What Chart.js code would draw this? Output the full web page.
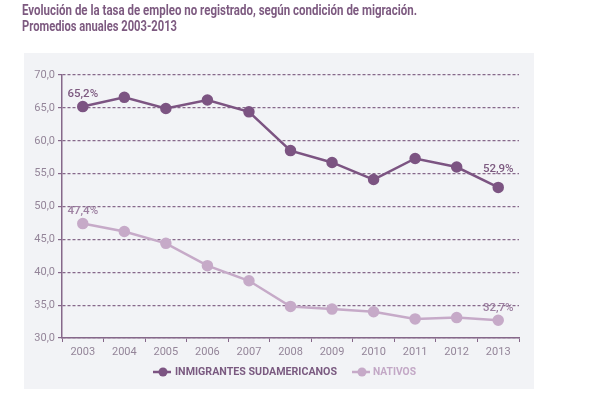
<!DOCTYPE html>
<html>
<head>
<meta charset="utf-8">
<script src="https://cdn.jsdelivr.net/npm/chart.js@4.4.1/dist/chart.umd.min.js"></script>
<style>
html,body{margin:0;padding:0;background:#fff;}
#wrap{width:595px;height:397px;position:relative;}
</style>
</head>
<body>
<div id="wrap"><canvas id="c" width="595" height="397"></canvas></div>
<script>
const years = ["2003","2004","2005","2006","2007","2008","2009","2010","2011","2012","2013"];
const inmigrantes = [65.2, 66.6, 64.9, 66.2, 64.4, 58.5, 56.7, 54.1, 57.3, 56.0, 52.9];
const nativos = [47.4, 46.2, 44.4, 41.0, 38.7, 34.8, 34.4, 34.0, 32.9, 33.1, 32.7];
const seriesNames = ["INMIGRANTES SUDAMERICANOS", "NATIVOS"];
const titleLines = ["Evolución de la tasa de empleo no registrado, según condición de migración.", "Promedios anuales 2003-2013"];
const yMin = 30, yMax = 70, yStep = 5;

const FONT = "Roboto,'Open Sans',Arial,sans-serif";
const C1 = "#7c5482", C2 = "#c6aac8";
const TICKC = "#948599";
const AXISC = "#86688a";

function fitText(ctx, text, x, y, w) {
  const mw = ctx.measureText(text).width;
  const s = w / mw;
  ctx.save();
  ctx.translate(x, y);
  ctx.scale(s, 1);
  ctx.fillText(text, 0, 0);
  ctx.restore();
}

const bgPlugin = {
  id: 'bg',
  beforeDraw(chart) {
    const ctx = chart.ctx;
    ctx.save();
    ctx.fillStyle = "#f2f3f6";
    ctx.fillRect(24, 53, 510, 336);
    ctx.fillStyle = "#7d5a80";
    ctx.font = "bold 14px " + FONT;
    ctx.textBaseline = "middle";
    ctx.textAlign = "left";
    fitText(ctx, titleLines[0], 22, 11, 395);
    fitText(ctx, titleLines[1], 22, 27, 155);
    ctx.restore();
  }
};

const labelPlugin = {
  id: 'lbls',
  afterDatasetsDraw(chart) {
    const ctx = chart.ctx;
    ctx.save();
    ctx.font = "500 11.5px " + FONT;
    ctx.textAlign = "center";
    ctx.textBaseline = "middle";
    chart.data.datasets.forEach((ds, di) => {
      const meta = chart.getDatasetMeta(di);
      const n = ds.data.length;
      [0, n - 1].forEach(i => {
        const p = meta.data[i];
        const txt = ds.data[i].toFixed(1).replace('.', ',') + '%';
        ctx.fillStyle = di === 0 ? "#7d5a80" : "#9c7fa0";
        const off = (di === 0 && i === n - 1) ? 18 : 12;
        ctx.fillText(txt, p.x, p.y - off);
      });
    });
    ctx.restore();
  }
};

const legendPlugin = {
  id: 'leg',
  afterDraw(chart) {
    const ctx = chart.ctx;
    ctx.save();
    ctx.font = "bold 11.5px " + FONT;
    ctx.textBaseline = "middle";
    ctx.textAlign = "left";
    const y = 372;
    const items = chart.data.datasets.map((d, i) => ({ label: d.label, color: d.borderColor, text: i === 0 ? "#7a5a80" : "#c3a8c6" }));
    const pos = [{ x: 153, tx: 175, w: 162 }, { x: 352, tx: 373, w: 43 }];
    items.forEach((it, i) => {
      const p = pos[i];
      ctx.strokeStyle = it.color;
      ctx.lineWidth = 2.5;
      ctx.beginPath();
      ctx.moveTo(p.x, y);
      ctx.lineTo(p.x + 18, y);
      ctx.stroke();
      ctx.fillStyle = it.color;
      ctx.beginPath();
      ctx.arc(p.x + 10, y, 4.5, 0, Math.PI * 2);
      ctx.fill();
      ctx.fillStyle = it.text;
      fitText(ctx, it.label, p.tx, y, p.w);
    });
    ctx.restore();
  }
};

new Chart(document.getElementById('c'), {
  type: 'line',
  data: {
    labels: years,
    datasets: [
      { label: seriesNames[0], data: inmigrantes, borderColor: C1, backgroundColor: C1, pointBackgroundColor: C1, pointBorderColor: C1, borderWidth: 2.5, pointRadius: 4.5, tension: 0 },
      { label: seriesNames[1], data: nativos, borderColor: C2, backgroundColor: C2, pointBackgroundColor: C2, pointBorderColor: C2, borderWidth: 2.5, pointRadius: 4.5, tension: 0 }
    ]
  },
  options: {
    responsive: false,
    animation: false,
    devicePixelRatio: 1,
    layout: { padding: { left: 0, right: 76, top: 75, bottom: 34 } },
    plugins: { legend: { display: false }, tooltip: { enabled: false }, title: { display: false } },
    scales: {
      x: {
        offset: true,
        grid: { offset: true, drawOnChartArea: false, drawTicks: true, tickLength: 4, color: AXISC, lineWidth: 1 },
        border: { display: true, color: AXISC, width: 1.5 },
        ticks: { color: TICKC, font: { family: FONT, size: 11 }, padding: 4, maxRotation: 0 },
        afterFit(s) { s.height = 25; }
      },
      y: {
        min: yMin, max: yMax,
        grid: { color: AXISC, lineWidth: 1.2, drawTicks: true, tickLength: 4 },
        border: { display: true, color: AXISC, width: 1.5, dash: [3, 2] },
        ticks: { stepSize: yStep, color: TICKC, font: { family: FONT, size: 11 }, padding: 3,
          callback: v => v.toFixed(1).replace('.', ',') },
        afterFit(s) { s.width = 62; }
      }
    }
  },
  plugins: [bgPlugin, labelPlugin, legendPlugin]
});
</script>
</body>
</html>
